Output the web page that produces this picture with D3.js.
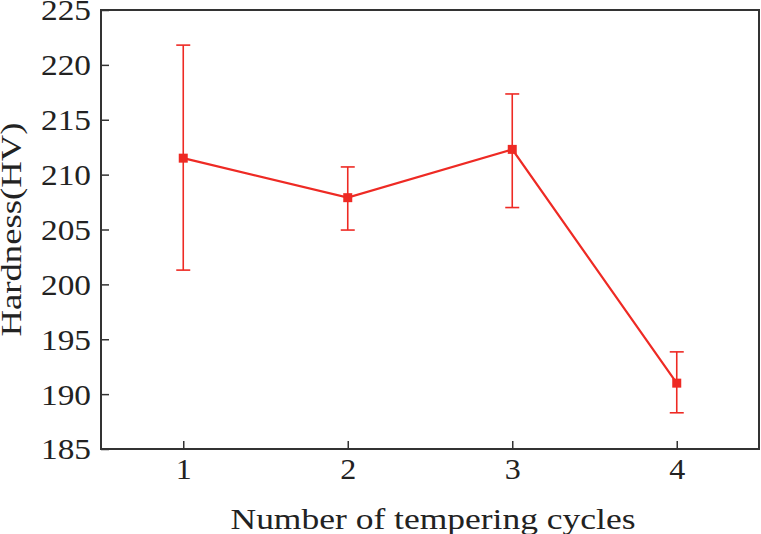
<!DOCTYPE html>
<html>
<head>
<meta charset="utf-8">
<script src="https://cdn.jsdelivr.net/npm/d3@7"></script>
<style>
  body { margin:0; background:#fff; }
  svg text { font-family: "Liberation Serif", "Times New Roman", Times, serif !important; fill:#222; }
</style>
</head>
<body>
<script>
// data
var cycles   = [1, 2, 3, 4]
var hardness = [211.5, 207.9, 212.3, 191.0]
var errHigh  = [221.8, 210.7, 217.35, 193.85]
var errLow   = [201.3, 204.95, 207.0, 188.3]
var yTicks   = [185, 190, 195, 200, 205, 210, 215, 220, 225]

var W = 761, H = 534
var m = {l:101, r:2, t:10, b:85}

var svg = d3.select("body").append("svg").attr("width",W).attr("height",H)

var x = d3.scaleLinear().domain([0.5,4.5]).range([m.l, W-m.r])
var y = d3.scaleLinear().domain([185,225]).range([H-m.b, m.t])

// frame
svg.append("rect")
    .attr("x",x(0.5)).attr("y",y(225))
    .attr("width",x(4.5)-x(0.5)).attr("height",y(185)-y(225))
    .attr("fill","none").attr("stroke","#333").attr("stroke-width",2)

var xAxis = svg.append("g").attr("transform","translate(0,"+y(185)+")")
    .call(d3.axisBottom(x).tickValues(cycles).tickFormat(d3.format("d")).tickSizeInner(-8).tickSizeOuter(0))
var yAxis = svg.append("g").attr("transform","translate("+x(0.5)+",0)")
    .call(d3.axisLeft(y).tickValues(yTicks).tickSizeInner(-8).tickSizeOuter(0))

xAxis.select(".domain").remove()
yAxis.select(".domain").remove()
svg.selectAll("g").attr("font-family",null)
svg.selectAll(".tick line").attr("stroke","#333").attr("stroke-width",1.5)
xAxis.selectAll("text").attr("font-size",29).attr("dy","0.75em").attr("y",8)
    .attr("textLength",16).attr("lengthAdjust","spacingAndGlyphs")
yAxis.selectAll("text").attr("font-size",29).attr("x",-10).attr("dy","0.34em")
    .attr("textLength",50).attr("lengthAdjust","spacingAndGlyphs")

// axis titles
svg.append("text").attr("x",(x(0.5)+x(4.5))/2+3).attr("y",529)
    .attr("text-anchor","middle").attr("font-size",30)
    .attr("textLength",405).attr("lengthAdjust","spacingAndGlyphs")
    .text("Number of tempering cycles")
svg.append("text")
    .attr("transform","translate(21,"+((y(185)+y(225))/2)+") rotate(-90)")
    .attr("text-anchor","middle").attr("font-size",29)
    .attr("textLength",214).attr("lengthAdjust","spacingAndGlyphs")
    .text("Hardness(HV)")

var red = "#ee2a24"
var pts = cycles.map(function(c,i){return {c:c,v:hardness[i],hi:errHigh[i],lo:errLow[i]}})

// error bars
var eb = svg.append("g").attr("stroke",red).attr("stroke-width",1.6).attr("fill","none")
pts.forEach(function(d){
    eb.append("line").attr("x1",x(d.c)).attr("x2",x(d.c)).attr("y1",y(d.hi)).attr("y2",y(d.lo))
    eb.append("line").attr("x1",x(d.c)-7).attr("x2",x(d.c)+7).attr("y1",y(d.hi)).attr("y2",y(d.hi))
    eb.append("line").attr("x1",x(d.c)-7).attr("x2",x(d.c)+7).attr("y1",y(d.lo)).attr("y2",y(d.lo))
})

svg.append("path").datum(pts)
    .attr("fill","none").attr("stroke",red).attr("stroke-width",2.2)
    .attr("d",d3.line().x(function(d){return x(d.c)}).y(function(d){return y(d.v)}))

svg.selectAll("rect.pt").data(pts).enter().append("rect").attr("class","pt")
    .attr("x",function(d){return x(d.c)-4.5}).attr("y",function(d){return y(d.v)-4.5})
    .attr("width",9).attr("height",9).attr("fill",red)
</script>
</body>
</html>
